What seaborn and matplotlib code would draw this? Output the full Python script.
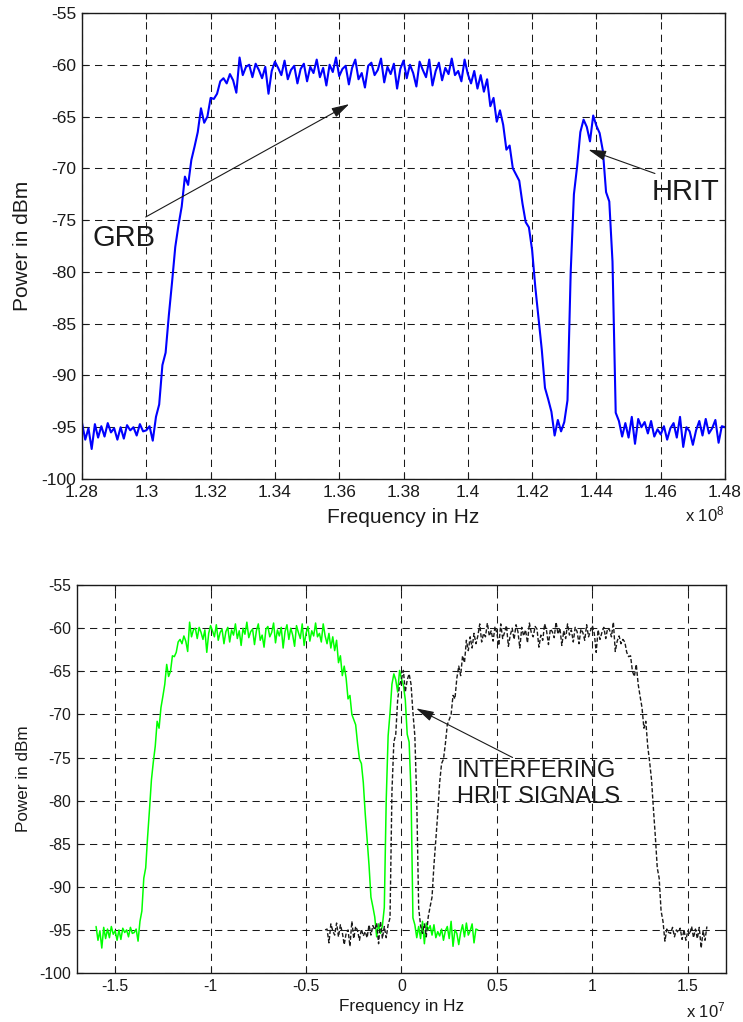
# -*- coding: utf-8 -*-
"""
GRB / HRIT spectrum, before and after downconversion
"""

import numpy as np
import matplotlib
matplotlib.use("Agg")
import matplotlib.pyplot as plt
import seaborn as sns

sns.set_theme(style="ticks")
plt.rcParams["font.family"] = ["Liberation Sans", "DejaVu Sans"]
plt.rcParams["axes.unicode_minus"] = False
plt.rcParams["mathtext.fontset"] = "custom"
plt.rcParams["mathtext.rm"] = "Liberation Sans"
plt.rcParams["mathtext.it"] = "Liberation Sans"
plt.rcParams["text.color"] = "k"
plt.rcParams["axes.labelcolor"] = "k"
plt.rcParams["xtick.color"] = "k"
plt.rcParams["ytick.color"] = "k"

#%% Data (100 kHz bins from 128 to 148 MHz)
freq_start_hz = 1.28e8
freq_stop_hz = 1.48e8
hrit_center_hz = 1.44e8

power_dbm = [
    -94.6, -96.2, -95.1, -97.1, -94.7, -96.0, -94.9, -95.9, -94.6, -95.5,   # 1.280
    -95.1, -96.2, -95.0, -96.1, -94.8, -95.3, -95.0, -95.8, -94.7, -95.4,   # 1.290
    -95.3, -94.9, -96.3, -94.0, -92.8, -89.0, -87.8, -84.2, -81.0, -77.6,   # 1.300
    -75.5, -73.7, -70.8, -71.6, -69.2, -67.9, -66.5, -64.2, -65.6, -65.0,   # 1.310
    -63.2, -63.3, -62.8, -61.6, -61.3, -61.8, -60.9, -61.5, -62.7, -59.3,   # 1.320
    -61.0, -60.2, -60.0, -61.2, -59.9, -60.5, -61.3, -60.2, -62.8, -60.6,   # 1.330
    -59.7, -60.3, -61.0, -59.6, -61.4, -60.5, -60.1, -61.8, -60.4, -59.9,   # 1.340
    -61.6, -60.2, -60.8, -59.5, -61.2, -60.3, -62.0, -60.0, -60.7, -59.3,   # 1.350
    -61.1, -60.4, -60.1, -61.9, -60.3, -59.5, -61.4, -60.8, -62.2, -60.1,   # 1.360
    -59.8, -61.0, -60.5, -59.4, -61.7, -60.2, -60.9, -59.9, -62.3, -60.4,   # 1.370
    -59.6, -61.3, -60.0, -60.8, -62.1, -59.7, -60.5, -61.2, -59.5, -62.0,   # 1.380
    -60.6, -59.8, -61.5, -60.3, -60.9, -59.4, -61.0, -60.6, -61.6, -59.5,   # 1.390
    -60.9, -61.8, -60.6, -62.3, -61.0, -62.6, -61.4, -64.0, -63.2, -65.5,   # 1.400
    -64.4, -65.8, -68.2, -67.8, -70.0, -70.6, -71.2, -73.4, -75.2, -75.7,   # 1.410
    -77.9, -81.5, -84.5, -87.5, -91.2, -92.3, -93.5, -95.8, -94.3, -95.4,   # 1.420
    -94.5, -92.4, -80.0, -72.5, -69.8, -66.5, -65.3, -66.0, -67.4, -64.9,   # 1.430
    -65.9, -66.6, -68.3, -72.3, -73.2, -79.0, -93.6, -94.4, -95.9, -94.6,   # 1.440
    -96.0, -94.0, -96.6, -94.2, -95.0, -94.5, -95.6, -94.4, -95.9, -95.2,   # 1.450
    -95.7, -94.9, -96.2, -95.1, -94.6, -96.0, -94.0, -96.9, -95.0, -95.4,   # 1.460
    -96.7, -95.3, -94.4, -95.8, -94.2, -95.6, -95.1, -94.3, -96.5, -94.9,   # 1.470
    -95.0,                                                                  # 1.480
]

power_ticks = [-100, -95, -90, -85, -80, -75, -70, -65, -60, -55]
rf_ticks = [1.28e8, 1.30e8, 1.32e8, 1.34e8, 1.36e8, 1.38e8,
            1.40e8, 1.42e8, 1.44e8, 1.46e8, 1.48e8]
rf_ticklabels = ["1.28", "1.3", "1.32", "1.34", "1.36", "1.38",
                 "1.4", "1.42", "1.44", "1.46", "1.48"]
bb_ticks = [-1.5e7, -1.0e7, -0.5e7, 0.0, 0.5e7, 1.0e7, 1.5e7]
bb_ticklabels = ["-1.5", "-1", "-0.5", "0", "0.5", "1", "1.5"]

freq_hz = np.linspace(freq_start_hz, freq_stop_hz, len(power_dbm))
power = np.array(power_dbm)

grid_style = dict(color="0.1", linestyle=(0, (7, 5)), linewidth=0.75)
arrow_style = dict(arrowstyle="-|>,head_length=0.6,head_width=0.17",
                   color="k", lw=0.8, mutation_scale=18, shrinkA=0, shrinkB=0)


def style_axes(ax, tick_size):
    ax.grid(True, **grid_style)
    ax.tick_params(direction="in", length=4, width=0.8, top=True, right=True,
                   labelsize=tick_size, pad=4, colors="k")
    for side in ["left", "right", "top", "bottom"]:
        ax.spines[side].set_visible(True)
        ax.spines[side].set_linewidth(1.0)
        ax.spines[side].set_color("k")


fig = plt.figure(figsize=(7.43, 10.22), dpi=100)

#%% Top: RF spectrum
ax1 = fig.add_axes([0.1104, 0.5313, 0.8654, 0.456])
sns.lineplot(x=freq_hz, y=power, ax=ax1, color="#0000ff", linewidth=1.5)
ax1.set_xlim(freq_start_hz, freq_stop_hz)
ax1.set_ylim(-100, -55)
ax1.set_xticks(rf_ticks)
ax1.set_xticklabels(rf_ticklabels)
ax1.set_yticks(power_ticks)
style_axes(ax1, 12.5)
ax1.set_xlabel("Frequency in Hz", fontsize=15, labelpad=6)
ax1.set_ylabel("Power in dBm", fontsize=15, labelpad=7)
ax1.text(1.0, -0.097, "x 10$^{8}$", transform=ax1.transAxes, ha="right",
         va="bottom", fontsize=12)

ax1.annotate("", xy=(1.3631e8, -63.8), xytext=(1.2998e8, -74.7),
             arrowprops=arrow_style)
ax1.text(1.2834e8, -75.4, "GRB", fontsize=21, ha="left", va="top")
ax1.annotate("", xy=(1.4375e8, -68.2), xytext=(1.4582e8, -70.5),
             arrowprops=arrow_style)
ax1.text(1.4571e8, -70.9, "HRIT", fontsize=21, ha="left", va="top")

#%% Bottom: baseband, normal and inverted spectrum
ax2 = fig.add_axes([0.1036, 0.0479, 0.8735, 0.3796])
sns.lineplot(x=freq_hz - hrit_center_hz, y=power, ax=ax2, color="#00ff00",
             linewidth=1.1)
sns.lineplot(x=hrit_center_hz - freq_hz, y=power, ax=ax2, color="k",
             linewidth=1.0, linestyle=(0, (3, 1.5)))
ax2.set_xlim(-1.7e7, 1.7e7)
ax2.set_ylim(-100, -55)
ax2.set_xticks(bb_ticks)
ax2.set_xticklabels(bb_ticklabels)
ax2.set_yticks(power_ticks)
style_axes(ax2, 11.3)
ax2.set_xlabel("Frequency in Hz", fontsize=12.3, labelpad=4)
ax2.set_ylabel("Power in dBm", fontsize=12.3, labelpad=6)
ax2.text(1.0, -0.122, "x 10$^{7}$", transform=ax2.transAxes, ha="right",
         va="bottom", fontsize=12)

ax2.annotate("", xy=(0.077e7, -69.3), xytext=(0.582e7, -75.0),
             arrowprops=arrow_style)
ax2.text(0.289e7, -75.3, "INTERFERING\nHRIT SIGNALS", fontsize=17,
         ha="left", va="top", linespacing=1.25)

fig.savefig("out.png", dpi=100)
